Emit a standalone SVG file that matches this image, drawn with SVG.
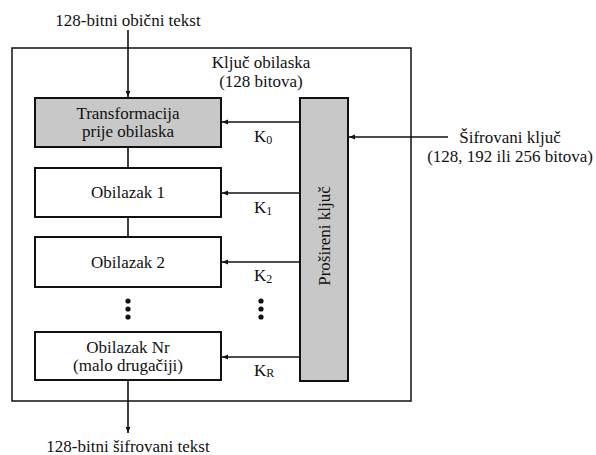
<svg xmlns="http://www.w3.org/2000/svg" width="596" height="455" viewBox="0 0 596 455">
  <style>
    text { font-family: "Liberation Serif", "Times New Roman", serif; font-size: 17px; fill: #111; }
    .mid { text-anchor: middle; }
    .sub { font-size: 12px; }
    .box { fill: #fff; stroke: #111; stroke-width: 2; }
    .grey { fill: #c8c8c8; stroke: #111; stroke-width: 2; }
    .frame { fill: none; stroke: #111; stroke-width: 1.5; }
    .wire { fill: none; stroke: #111; stroke-width: 1.6; }
  </style>
  <defs>
    <marker id="arrow" viewBox="0 0 10 10" refX="10" refY="5" markerWidth="6" markerHeight="6" markerUnits="userSpaceOnUse" orient="auto">
      <path d="M0,1 L10,5 L0,9 Z" fill="#111"/>
    </marker>
  </defs>

  <!-- outer cipher block -->
  <rect id="frame" class="frame" x="12" y="48" width="399" height="353"/>

  <!-- connectors -->
  <g id="connectors">
    <line class="wire" x1="128" y1="30" x2="128" y2="97" marker-end="url(#arrow)"/>
    <line class="wire" x1="128" y1="147" x2="128" y2="168"/>
    <line class="wire" x1="128" y1="217" x2="128" y2="237"/>
    <line class="wire" x1="128" y1="380" x2="128" y2="433" marker-end="url(#arrow)"/>
    <line class="wire" x1="300" y1="122" x2="222" y2="122" marker-end="url(#arrow)"/>
    <line class="wire" x1="300" y1="193" x2="222" y2="193" marker-end="url(#arrow)"/>
    <line class="wire" x1="300" y1="262" x2="222" y2="262" marker-end="url(#arrow)"/>
    <line class="wire" x1="300" y1="357" x2="222" y2="357" marker-end="url(#arrow)"/>
    <line class="wire" x1="448" y1="137" x2="349" y2="137" marker-end="url(#arrow)"/>
  </g>

  <!-- input / output labels -->
  <text id="input" class="mid" x="128" y="26">128-bitni obični tekst</text>
  <text id="output" class="mid" x="128" y="452">128-bitni šifrovani tekst</text>

  <g id="round-key-label">
    <text class="mid" x="261" y="68">Ključ obilaska</text>
    <text class="mid" x="261" y="87">(128 bitova)</text>
  </g>

  <g id="cipher-key">
    <text class="mid" x="510" y="143">Šifrovani ključ</text>
    <text class="mid" x="510" y="162">(128, 192 ili 256 bitova)</text>
  </g>

  <g id="pre-round">
    <rect class="grey" x="35" y="98" width="186" height="49"/>
    <text class="mid" x="128" y="119">Transformacija</text>
    <text class="mid" x="128" y="137">prije obilaska</text>
  </g>

  <g id="round-1">
    <rect class="box" x="35" y="168" width="186" height="49"/>
    <text class="mid" x="128" y="198">Obilazak 1</text>
  </g>

  <g id="round-2">
    <rect class="box" x="35" y="237" width="186" height="50"/>
    <text class="mid" x="128" y="268">Obilazak 2</text>
  </g>

  <g id="round-nr">
    <rect class="box" x="35" y="332" width="186" height="48"/>
    <text class="mid" x="128" y="353">Obilazak Nr</text>
    <text class="mid" x="128" y="371">(malo drugačiji)</text>
  </g>

  <g id="key-expansion">
    <rect class="grey" x="300" y="98" width="48" height="283"/>
    <text class="mid" transform="translate(330 236) rotate(-90)">Prošireni ključ</text>
  </g>

  <!-- round key labels -->
  <g id="keys">
    <text x="254" y="142">K<tspan class="sub" dy="2">0</tspan></text>
    <text x="254" y="213">K<tspan class="sub" dy="2">1</tspan></text>
    <text x="254" y="281">K<tspan class="sub" dy="2">2</tspan></text>
    <text x="254" y="376">K<tspan class="sub" dy="1">R</tspan></text>
  </g>

  <!-- ellipsis dots -->
  <g id="ellipsis" fill="#111">
    <circle cx="128" cy="301" r="2.6"/>
    <circle cx="128" cy="309" r="2.6"/>
    <circle cx="128" cy="317" r="2.6"/>
    <circle cx="261" cy="301" r="2.6"/>
    <circle cx="261" cy="309" r="2.6"/>
    <circle cx="261" cy="317" r="2.6"/>
  </g>
</svg>
